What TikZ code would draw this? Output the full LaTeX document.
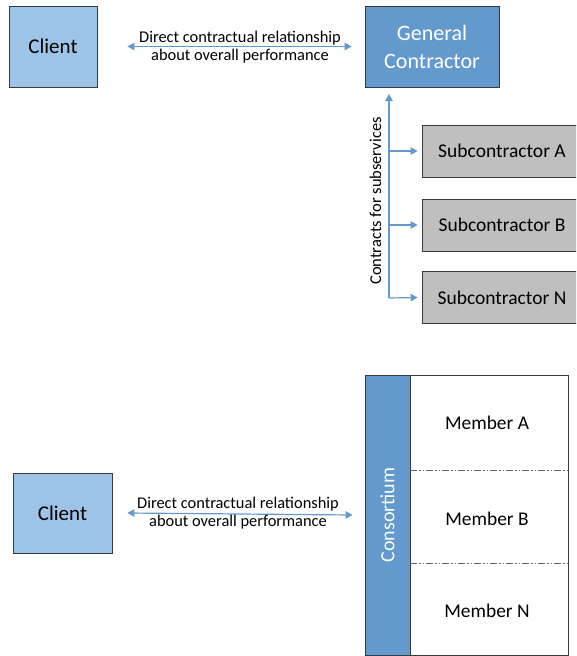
\documentclass[tikz,border=0pt]{standalone}
\usepackage{fontspec}
\setmainfont{Carlito}
\usetikzlibrary{arrows.meta}
\definecolor{lblue}{HTML}{9DC3E6}
\definecolor{mblue}{HTML}{6399CD}
\definecolor{gbox}{HTML}{BFBFBF}
\definecolor{edge}{HTML}{3A3A3A}
\tikzset{
  box/.style={draw=edge, line width=0.9pt, inner sep=0pt, align=center},
  clientbox/.style={box, fill=lblue, font=\fontsize{21}{24}\selectfont},
  gcbox/.style={box, fill=mblue, text=white, font=\fontsize{22}{28}\selectfont},
  subbox/.style={box, fill=gbox, font=\fontsize{19.5}{22}\selectfont, minimum width=160pt, minimum height=52pt},
  arr/.style={draw=mblue, line width=1.2pt, -{Triangle[length=7pt,width=7.5pt]}},
  darr/.style={draw=mblue, line width=1.2pt, {Triangle[length=7pt,width=7.5pt]}-{Triangle[length=7pt,width=7.5pt]}},
  lbl/.style={font=\fontsize{16.4}{18.5}\selectfont, align=center, inner sep=0pt},
  member/.style={font=\fontsize{19.4}{22}\selectfont, inner sep=0pt},
  sep/.style={draw=gray!80!black, line width=0.9pt, dash pattern=on 7pt off 2pt on 1.5pt off 2pt on 1.5pt off 2pt}
}
\begin{document}
\begin{tikzpicture}[x=1pt,y=-1pt]
\useasboundingbox (0,0) rectangle (576,656);
\clip (0,0) rectangle (576,656);
% ---------- top ----------
\node[clientbox, minimum width=88pt, minimum height=81pt] (cl1) at (53,46.5) {Client};
\node[gcbox, minimum width=134pt, minimum height=81pt] (gc) at (432,46.5) {General\\Contractor};
\draw[darr] ([xshift=30pt]cl1.east) -- ([xshift=-13pt]gc.west);
\node[lbl] (t1) at (240,47) {Direct contractual relationship\\about overall performance};

\node[subbox] (sa) at (502,151) {Subcontractor A};
\node[subbox] (sb) at (502,225) {Subcontractor B};
\node[subbox] (sn) at (502,297.5) {Subcontractor N};

\coordinate (vb) at (389,298);
\coordinate (va) at (389,151);
\coordinate (vbb) at (389,225);
\coordinate (vt) at (389,94);
\draw[arr] (vb) -- (vt);
\draw[arr] (va) -- ([xshift=-4pt]sa.west);
\draw[arr] (vbb) -- ([xshift=-4pt]sb.west);
\draw[arr] (vb) -- ([xshift=-4pt]sn.west);
\node[lbl, font=\fontsize{16.5}{18}\selectfont, rotate=90] (cs) at (375.5,201) {Contracts for subservices};

% ---------- bottom ----------
\node[clientbox, minimum width=99pt, minimum height=80pt] (cl2) at (62.5,513) {Client};
\node[box, fill=mblue, minimum width=45pt, minimum height=280pt] (cons) at (387.5,515) {};
\node[text=white, rotate=90, font=\fontsize{20}{22}\selectfont, inner sep=0pt] (ct) at (cons.center) {Consortium};
\node[box, minimum width=158pt, minimum height=280pt] (mem) at (489,515) {};
\coordinate (s1l) at (410,470);
\coordinate (s1r) at (568,470);
\coordinate (s2l) at (410,563);
\coordinate (s2r) at (568,563);
\draw[sep] (s1l) -- (s1r);
\draw[sep] (s2l) -- (s2r);
\node[member] (ma) at (487,423) {Member A};
\node[member] (mb) at (487,519) {Member B};
\node[member] (mn) at (487,611) {Member N};
\draw[darr] ([xshift=15pt]cl2.east) -- ([xshift=-12pt]cons.west);
\node[lbl] (t2) at (238,513) {Direct contractual relationship\\about overall performance};
\end{tikzpicture}
\end{document}
